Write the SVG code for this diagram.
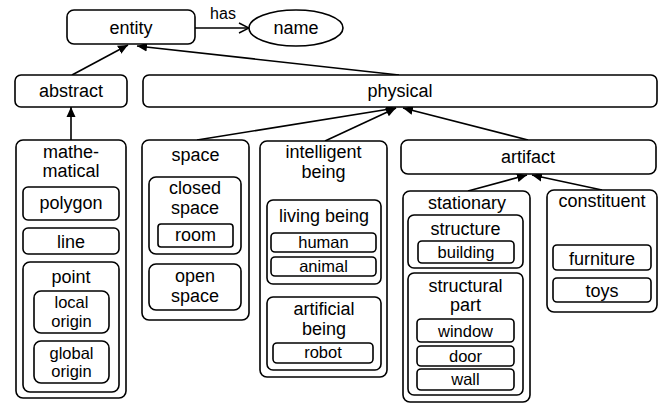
<svg xmlns="http://www.w3.org/2000/svg" width="664" height="405" viewBox="0 0 664 405">
  <defs>
    <marker id="tri" viewBox="0 0 10 10" refX="10" refY="5" markerWidth="10" markerHeight="10" markerUnits="userSpaceOnUse" orient="auto">
      <path d="M0,0.5 L10,5 L0,9.5 Z" fill="#000"/>
    </marker>
    <marker id="open" viewBox="0 0 12 12" refX="11" refY="6" markerWidth="12" markerHeight="12" markerUnits="userSpaceOnUse" orient="auto">
      <path d="M1,1 L11,6 L1,11" fill="none" stroke="#000" stroke-width="1.4"/>
    </marker>
    <style>
      rect, ellipse { fill: #fff; stroke: #000; stroke-width: 1.6; }
      .s { stroke-width: 1.4; }
      text { font-family: "Liberation Sans", Arial, sans-serif; font-size: 18px; fill: #000; text-anchor: middle; }
      .sm { font-size: 16.5px; }
      .lb { font-size: 16px; }
      .edge { stroke: #000; stroke-width: 1.6; fill: none; }
    </style>
  </defs>

  <!-- connectors -->
  <g id="connectors">
    <line class="edge" x1="195" y1="28" x2="249" y2="28" marker-end="url(#open)"/>
    <text class="lb" x="223" y="19">has</text>
    <line class="edge" x1="72" y1="75" x2="128" y2="45" marker-end="url(#tri)"/>
    <line class="edge" x1="399" y1="75" x2="137" y2="46" marker-end="url(#tri)"/>
    <line class="edge" x1="71" y1="140" x2="71" y2="107" marker-end="url(#tri)"/>
    <line class="edge" x1="197" y1="140" x2="396" y2="108" marker-end="url(#tri)"/>
    <line class="edge" x1="325" y1="141" x2="396" y2="108" marker-end="url(#tri)"/>
    <line class="edge" x1="528" y1="140" x2="403" y2="108" marker-end="url(#tri)"/>
    <line class="edge" x1="468" y1="191" x2="527" y2="175" marker-end="url(#tri)"/>
    <line class="edge" x1="602" y1="190" x2="532" y2="175" marker-end="url(#tri)"/>
  </g>

  <g id="entity">
    <rect x="67" y="10" width="128" height="34" rx="7"/>
    <text x="131" y="34">entity</text>
  </g>
  <g id="name">
    <ellipse cx="296" cy="28" rx="47" ry="18"/>
    <text x="296" y="34">name</text>
  </g>
  <g id="abstract">
    <rect x="15" y="75" width="112" height="32" rx="6"/>
    <text x="71" y="97">abstract</text>
  </g>
  <g id="physical">
    <rect x="143" y="75" width="514" height="32" rx="6"/>
    <text x="400" y="97">physical</text>
  </g>

  <!-- mathematical -->
  <g id="mathematical">
    <rect x="16" y="140" width="110" height="258" rx="7"/>
    <text x="71" y="158">mathe-</text>
    <text x="71" y="177">matical</text>
    <g id="polygon">
      <rect x="23" y="187" width="96" height="33" rx="5"/>
      <text x="71" y="209">polygon</text>
    </g>
    <g id="line">
      <rect x="23" y="228" width="96" height="26" rx="5"/>
      <text x="71" y="248">line</text>
    </g>
    <g id="point">
      <rect x="23" y="262" width="96" height="130" rx="7"/>
      <text x="71" y="283">point</text>
      <g id="local-origin">
        <rect x="34" y="291" width="75" height="42" rx="7"/>
        <text class="sm" x="71.5" y="308">local</text>
        <text class="sm" x="71.5" y="327">origin</text>
      </g>
      <g id="global-origin">
        <rect x="34" y="341" width="75" height="42" rx="7"/>
        <text class="sm" x="71.5" y="359">global</text>
        <text class="sm" x="71.5" y="377">origin</text>
      </g>
    </g>
  </g>

  <!-- space -->
  <g id="space">
    <rect x="142" y="140" width="107" height="180" rx="7"/>
    <text x="195.5" y="161">space</text>
    <g id="closed-space">
      <rect x="149" y="177" width="92" height="77" rx="7"/>
      <text x="195" y="194">closed</text>
      <text x="195" y="214">space</text>
      <g id="room">
        <rect x="158" y="224" width="75" height="23" rx="3"/>
        <text x="195.5" y="241">room</text>
      </g>
    </g>
    <g id="open-space">
      <rect x="149" y="264" width="92" height="46" rx="7"/>
      <text x="195" y="282">open</text>
      <text x="195" y="302">space</text>
    </g>
  </g>

  <!-- intelligent being -->
  <g id="intelligent-being">
    <rect x="260" y="141" width="127" height="236" rx="7"/>
    <text x="323.5" y="158">intelligent</text>
    <text x="323.5" y="178">being</text>
    <g id="living-being">
      <rect x="267" y="200" width="114" height="84" rx="6"/>
      <text x="324" y="222">living being</text>
      <g id="human">
        <rect x="271" y="233" width="105" height="19" rx="4"/>
        <text class="sm" x="323.5" y="248">human</text>
      </g>
      <g id="animal">
        <rect x="271" y="257" width="105" height="19" rx="4"/>
        <text class="sm" x="323.5" y="272">animal</text>
      </g>
    </g>
    <g id="artificial-being">
      <rect x="267" y="297" width="114" height="73" rx="6"/>
      <text x="324" y="315">artificial</text>
      <text x="324" y="335">being</text>
      <g id="robot">
        <rect x="273" y="343" width="100" height="20" rx="4"/>
        <text class="sm" x="323" y="358">robot</text>
      </g>
    </g>
  </g>

  <!-- artifact -->
  <g id="artifact">
    <rect x="401" y="140" width="255" height="34" rx="7"/>
    <text x="528" y="163">artifact</text>
  </g>

  <g id="stationary">
    <rect x="403" y="191" width="127" height="211" rx="7"/>
    <text x="467" y="209">stationary</text>
    <g id="structure">
      <rect x="408" y="215" width="115" height="53" rx="6"/>
      <text x="465.5" y="235">structure</text>
      <g id="building">
        <rect x="418" y="241" width="96" height="22" rx="4"/>
        <text class="sm" x="466" y="258">building</text>
      </g>
    </g>
    <g id="structural-part">
      <rect x="408" y="273" width="115" height="122" rx="6"/>
      <text x="465.5" y="292">structural</text>
      <text x="465.5" y="311">part</text>
      <g id="window">
        <rect x="417" y="319" width="97" height="23" rx="4"/>
        <text class="sm" x="465.5" y="337">window</text>
      </g>
      <g id="door">
        <rect x="417" y="346" width="97" height="20" rx="4"/>
        <text class="sm" x="465.5" y="362">door</text>
      </g>
      <g id="wall">
        <rect x="417" y="369" width="97" height="21" rx="4"/>
        <text class="sm" x="465.5" y="385">wall</text>
      </g>
    </g>
  </g>

  <g id="constituent">
    <rect x="547" y="190" width="110" height="122" rx="7"/>
    <text x="602" y="207">constituent</text>
    <g id="furniture">
      <rect x="553" y="245" width="98" height="25" rx="4"/>
      <text x="602" y="265">furniture</text>
    </g>
    <g id="toys">
      <rect x="553" y="278" width="98" height="24" rx="4"/>
      <text x="602" y="297">toys</text>
    </g>
  </g>
</svg>
